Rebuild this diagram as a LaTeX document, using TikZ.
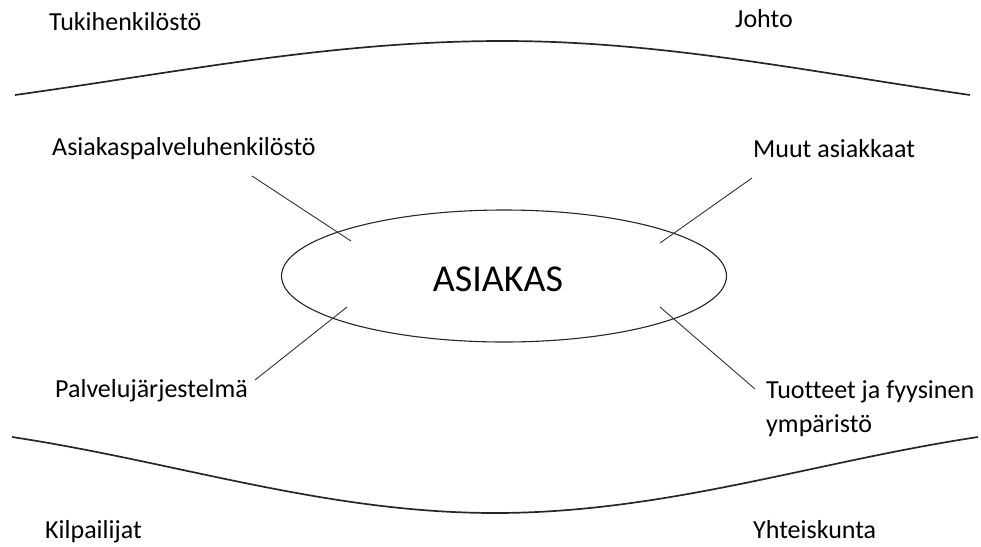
\documentclass[tikz,border=0pt]{standalone}
\usepackage{fontspec}
\setmainfont{Carlito}[Ligatures=NoCommon]
\usetikzlibrary{shapes.geometric}
\begin{document}
\begin{tikzpicture}[x=1pt,y=-1pt,
  label/.style={anchor=base west,inner sep=0pt,font=\fontsize{26}{34}\selectfont,text=black},
  band/.style={draw=black!85,line width=1.7pt},
  spoke/.style={draw=black!80,line width=0.9pt},
  core/.style={ellipse,draw=black!85,line width=1.1pt,minimum width=445pt,minimum height=132pt,inner sep=0pt},
  coretext/.style={inner sep=0pt,font=\fontsize{38}{42}\selectfont,text=black}]
  \useasboundingbox (0,0) rectangle (981,546);

  % outer layers: two gently bowed bands
  \coordinate (tl) at (15,95);
  \coordinate (tm) at (503,41);
  \coordinate (tr) at (970,95);
  \coordinate (bl) at (12,437);
  \coordinate (bm) at (495,513);
  \coordinate (br) at (978,437);
  \draw[band] (tl) .. controls (180,72) and (333,41) .. (tm)
                   .. controls (663,41) and (810,72) .. (tr);
  \draw[band] (bl) .. controls (177,462) and (325,513) .. (bm)
                   .. controls (665,513) and (813,462) .. (br);

  % centre
  \node[core] (asiakas) at (504,276) {};
  \node[coretext] (asiakastext) at (498,279) {ASIAKAS};

  % labels
  \node[label] (tuki) at (49,30) {Tukihenkilöstö};
  \node[label] (johto) at (735,27) {Johto};
  \node[label] (aspa) at (52,155) {Asiakaspalveluhenkilöstö};
  \node[label] (muut) at (753,157) {Muut asiakkaat};
  \node[label] (pjar) at (55,397) {Palvelujärjestelmä};
  \node[label] (tuot) at (766,398) {Tuotteet ja fyysinen};
  \node[label] (ymp) at (766,432) {ympäristö};
  \node[label] (kilp) at (45,538) {Kilpailijat};
  \node[label] (yhte) at (753,538) {Yhteiskunta};

  % spokes into the centre
  \coordinate (s1a) at (252,176);
  \coordinate (s1b) at (351,241);
  \coordinate (s2a) at (752,178);
  \coordinate (s2b) at (660,243);
  \coordinate (s3a) at (347,307);
  \coordinate (s3b) at (255,380);
  \coordinate (s4a) at (660,307);
  \coordinate (s4b) at (755,389);
  \draw[spoke] (s1a) -- (s1b);
  \draw[spoke] (s2a) -- (s2b);
  \draw[spoke] (s3a) -- (s3b);
  \draw[spoke] (s4a) -- (s4b);
\end{tikzpicture}
\end{document}
